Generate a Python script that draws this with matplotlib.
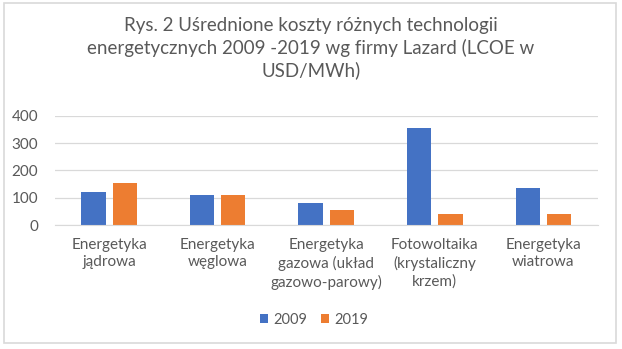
import numpy as np
import matplotlib.pyplot as plt
from matplotlib.patches import Rectangle

categories = ['Energetyka\njądrowa', 'Energetyka\nwęglowa', 'Energetyka\ngazowa (układ\ngazowo-parowy)',
              'Fotowoltaika\n(krystaliczny\nkrzem)', 'Energetyka\nwiatrowa']
lcoe_2009 = [123, 111, 81, 357, 135]
lcoe_2019 = [155, 110, 56, 40, 40]
series_labels = ['2009', '2019']
yticks = [0, 100, 200, 300, 400]

plt.rcParams['font.family'] = ['Lato', 'DejaVu Sans']
text_col = '#595959'

fig = plt.figure(figsize=(6.22, 3.49), dpi=100)
ax = fig.add_axes([0.088, 0.355, 0.873, 0.313])

x = np.arange(len(categories))
w = 0.224
off = 0.144
b1 = ax.bar(x - off, lcoe_2009, w, color='#4472C4', label=series_labels[0])
b2 = ax.bar(x + off, lcoe_2019, w, color='#ED7D31', label=series_labels[1])

ax.set_xlim(-0.5, len(categories) - 0.5)
ax.set_ylim(0, 400)
ax.set_yticks(yticks)
ax.yaxis.grid(True, color='#D9D9D9', linewidth=0.9)
ax.set_axisbelow(True)
for s in ['top', 'right', 'left']:
    ax.spines[s].set_visible(False)
ax.spines['bottom'].set_color('#D9D9D9')
ax.set_xticks(x)
ax.set_xticklabels(categories, linespacing=1.35)
ax.tick_params(axis='both', length=0, labelsize=11, colors=text_col)
ax.tick_params(axis='x', pad=9)
ax.tick_params(axis='y', pad=12)

fig.text(0.5, 0.862, 'Rys. 2 Uśrednione koszty różnych technologii\nenergetycznych 2009 -2019 wg firmy Lazard (LCOE w\nUSD/MWh)',
         ha='center', va='center', fontsize=13.5, color=text_col, linespacing=1.3)

fig.legend(handles=[b1, b2], loc='center', bbox_to_anchor=(0.505, 0.083), ncol=2, frameon=False,
           fontsize=10.5, handlelength=0.55, handleheight=0.55, handletextpad=0.35, columnspacing=1.0,
           labelcolor=text_col)

# light frame around the whole chart
fig.patches.append(Rectangle((0.007, 0.017), 0.984, 0.974, transform=fig.transFigure,
                             fill=False, edgecolor='#D9D9D9', linewidth=1.2))

fig.savefig('out.png', dpi=100)
